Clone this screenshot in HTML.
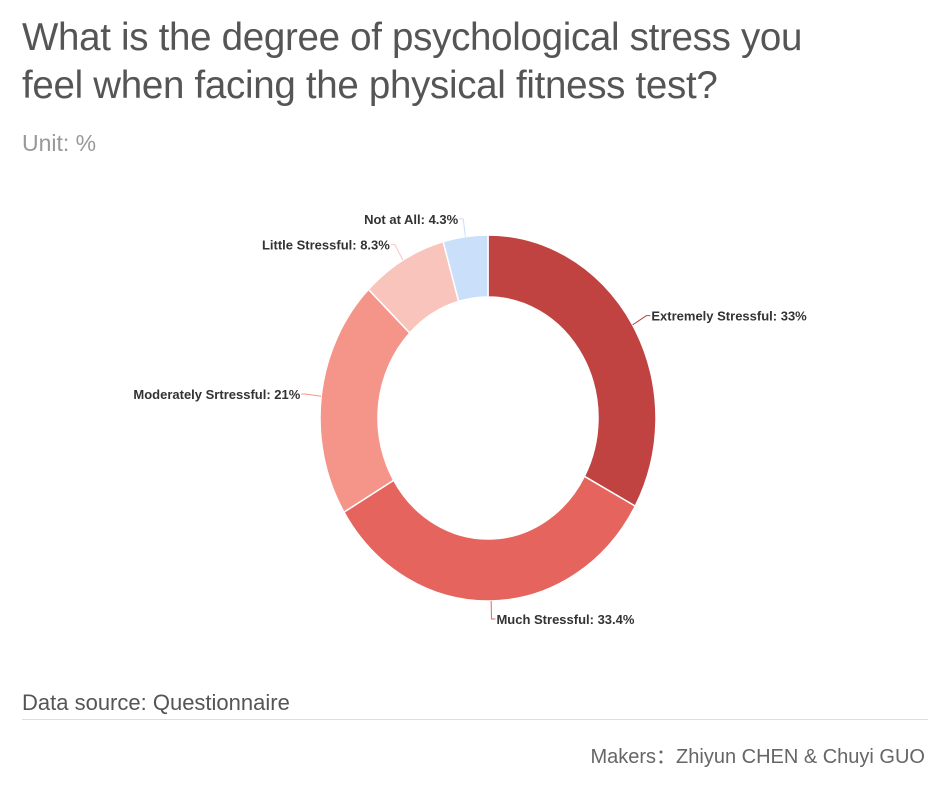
<!DOCTYPE html>
<html><head><meta charset="utf-8">
<style>
body{margin:0;background:#fff;width:947px;height:787px;overflow:hidden;font-family:"Liberation Sans",sans-serif;position:relative}
.title{position:absolute;left:22px;top:14px;font-size:38.5px;line-height:48px;color:#555;letter-spacing:-0.3px}
.unit{position:absolute;left:22px;top:130px;font-size:23px;color:#999}
.src{position:absolute;left:22px;top:690px;font-size:22px;color:#555}
.rule{position:absolute;left:22px;top:719px;width:906px;height:1px;background:#ddd}
.makers{position:absolute;right:22px;top:740px;font-size:20px;color:#666}
svg{position:absolute;left:0;top:0}
</style></head><body>
<div class="title">What is the degree of psychological stress you<br>feel when facing the physical fitness test?</div>
<div class="unit">Unit: %</div>
<svg id="chart" width="947" height="787"></svg>
<div class="src">Data source: Questionnaire</div>
<div class="rule"></div>
<div class="makers">Makers：Zhiyun CHEN &amp; Chuyi GUO</div>
<script>
const categories=["Extremely Stressful","Much Stressful","Moderately Srtressful","Little Stressful","Not at All"];
const values=[33,33.4,21,8.3,4.3];
const valueLabels=["33%","33.4%","21%","8.3%","4.3%"];
const colors=["#c04342","#e5645e","#f59489","#f9c4bc","#c9dffa"];
const NS="http://www.w3.org/2000/svg";
const svg=document.getElementById('chart');
const cx=488,cy=418,rx=168,ry=183,irx=110,iry=121;
const total=values.reduce((a,b)=>a+b,0);
function pt(a,kx,ky){return [cx+kx*Math.sin(a),cy-ky*Math.cos(a)];}
let acc=0;
values.forEach((v,i)=>{
  const a0=acc/total*2*Math.PI; acc+=v; const a1=acc/total*2*Math.PI;
  const large=(a1-a0)>Math.PI?1:0;
  const p0=pt(a0,rx,ry),p1=pt(a1,rx,ry),q1=pt(a1,irx,iry),q0=pt(a0,irx,iry);
  const path=document.createElementNS(NS,'path');
  path.setAttribute('d',`M${p0}A${rx},${ry} 0 ${large} 1 ${p1}L${q1}A${irx},${iry} 0 ${large} 0 ${q0}Z`);
  path.setAttribute('fill',colors[i]);path.setAttribute('stroke','#fff');path.setAttribute('stroke-width','1.5');
  
  
  svg.appendChild(path);
  const am=(a0+a1)/2;
  const s=pt(am,rx,ry),e=pt(am,rx+16,ry+18);
  const right=Math.sin(am)>=0;
  const line=document.createElementNS(NS,'polyline');
  const ex=e[0]+(right?4:-4);
  line.setAttribute('points',`${s} ${e} ${ex},${e[1]}`);
  line.setAttribute('fill','none');line.setAttribute('stroke',colors[i]);line.setAttribute('stroke-width','1');
  
  
  svg.appendChild(line);
  const t=document.createElementNS(NS,'text');
  t.setAttribute('x',ex+(right?1:-1));t.setAttribute('y',e[1]+5);
  t.setAttribute('text-anchor',right?'start':'end');
  t.setAttribute('font-size','13');t.setAttribute('fill','#333');t.setAttribute('font-weight','bold');
  t.setAttribute('font-family','"Liberation Sans",sans-serif');
  t.textContent=categories[i]+': '+valueLabels[i];
  
  
  svg.appendChild(t);
});
</script>
</body></html>
